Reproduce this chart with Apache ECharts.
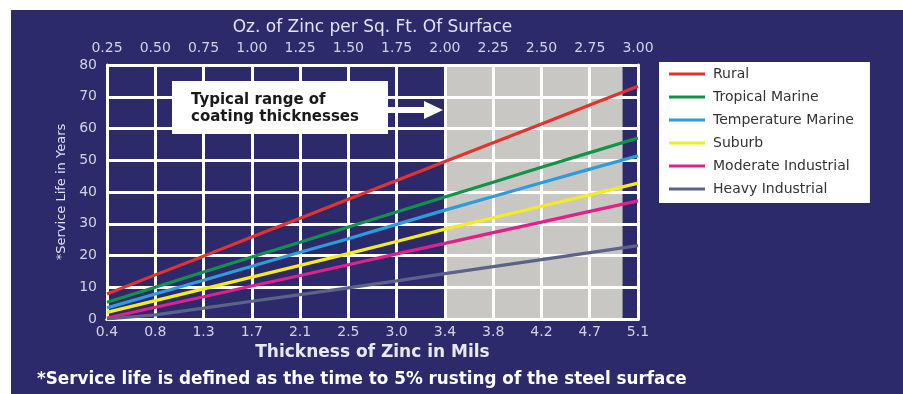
<!DOCTYPE html>
<html>
<head>
<meta charset="utf-8">
<script src="https://cdn.jsdelivr.net/npm/echarts@6/dist/echarts.min.js"></script>
<style>
  html, body { margin: 0; padding: 0; background: #fff; }
  #panel { position: absolute; left: 11px; top: 10px; right: 0; bottom: 0; background: #2d2a6c; }
  #chart { position: absolute; left: 0; top: 0; width: 903px; height: 394px; }
</style>
</head>
<body>
<div id="panel"></div>
<div id="chart"></div>
<script>
// x positions in oz of zinc per sq. ft.
const ozTicks = [0.25, 0.5, 0.75, 1.0, 1.25, 1.5, 1.75, 2.0, 2.25, 2.5, 2.75, 3.0]
const ozLabels = ['0.25', '0.50', '0.75', '1.00', '1.25', '1.50', '1.75', '2.00', '2.25', '2.50', '2.75', '3.00']
const milLabels = ['0.4', '0.8', '1.3', '1.7', '2.1', '2.5', '3.0', '3.4', '3.8', '4.2', '4.7', '5.1']

// service life in years at each oz tick
const rural = [7.9, 13.9, 19.8, 25.8, 31.7, 37.7, 43.6, 49.6, 55.5, 61.4, 67.4, 73.3]
const tropicalMarine = [5.3, 10.0, 14.8, 19.5, 24.2, 29.0, 33.7, 38.4, 43.1, 47.8, 52.4, 57.0]
const temperatureMarine = [3.5, 7.9, 12.2, 16.6, 21.0, 25.3, 29.8, 34.3, 38.6, 42.9, 47.2, 51.4]
const suburb = [2.1, 5.8, 9.5, 13.2, 16.9, 20.6, 24.4, 28.3, 31.9, 35.5, 39.1, 42.8]
const moderateIndustrial = [0.3, 3.7, 7.0, 10.4, 13.7, 17.1, 20.5, 23.8, 27.2, 30.5, 33.9, 37.2]
const heavyIndustrial = [0, 1.3, 3.4, 5.6, 7.7, 9.8, 12.0, 14.3, 16.5, 18.7, 20.9, 23.1]

// typical coating range (oz)
const typicalRange = [2.0, 2.92]

const lineDefs = [
  { name: 'Rural', data: rural, color: '#e2332f' },
  { name: 'Tropical Marine', data: tropicalMarine, color: '#12934a' },
  { name: 'Temperature Marine', data: temperatureMarine, color: '#2b9ddb' },
  { name: 'Suburb', data: suburb, color: '#f3ec22' },
  { name: 'Moderate Industrial', data: moderateIndustrial, color: '#e0218a' },
  { name: 'Heavy Industrial', data: heavyIndustrial, color: '#5c6388' }
]

const font = '"DejaVu Sans", sans-serif'
const labelColor = '#d2d2e4'

const chart = echarts.init(document.getElementById('chart'))

const series = lineDefs.map((d, i) => {
  const s = {
    name: d.name,
    type: 'line',
    symbol: 'none',
    z: 5,
    lineStyle: { color: d.color, width: 3.2 },
    itemStyle: { color: d.color },
    data: d.data.map((v, k) => [ozTicks[k], v])
  }
  if (i === 0) {
    s.markArea = {
      silent: true,
      itemStyle: { color: '#c9c7c3' },
      data: [[{ xAxis: typicalRange[0] }, { xAxis: typicalRange[1] }]]
    }
  }
  return s
})

const option = {
  animation: false,
  textStyle: { fontFamily: font },
  grid: { left: 107, right: 265, top: 65, bottom: 75 },
  legend: {
    left: 659,
    top: 62,
    orient: 'vertical',
    backgroundColor: '#ffffff',
    padding: [5, 16, 7, 10],
    itemGap: 9,
    itemWidth: 36,
    itemHeight: 3,
    icon: 'rect',
    textStyle: { color: '#333333', fontSize: 14, lineHeight: 14, fontFamily: font, padding: [0, 0, 0, 3] },
    data: lineDefs.map(d => d.name)
  },
  xAxis: [
    {
      type: 'value',
      position: 'top',
      min: 0.25,
      max: 3.0,
      interval: 0.25,
      z: 3,
      name: 'Oz. of Zinc per Sq. Ft. Of Surface',
      nameLocation: 'middle',
      nameGap: 24,
      nameTextStyle: { color: '#e2e2f0', fontSize: 17, fontFamily: font },
      axisLine: { show: true, lineStyle: { color: '#ffffff', width: 3 } },
      axisTick: { show: false },
      axisLabel: {
        color: labelColor,
        fontSize: 14,
        margin: 10,
        fontFamily: font,
        formatter: (v, i) => ozLabels[i]
      },
      splitLine: { show: true, lineStyle: { color: '#ffffff', width: 3 } }
    },
    {
      type: 'value',
      position: 'bottom',
      min: 0.25,
      max: 3.0,
      interval: 0.25,
      z: 3,
      name: 'Thickness of Zinc in Mils',
      nameLocation: 'middle',
      nameGap: 24,
      nameTextStyle: { color: '#e8e8f4', fontSize: 17, fontWeight: 'bold', fontFamily: font },
      axisLine: { show: true, onZero: false, lineStyle: { color: '#ffffff', width: 3 } },
      axisTick: { show: false },
      axisLabel: {
        color: labelColor,
        fontSize: 14,
        margin: 6,
        fontFamily: font,
        formatter: (v, i) => milLabels[i]
      },
      splitLine: { show: false }
    }
  ],
  yAxis: [
    {
      type: 'value',
      min: 0,
      max: 80,
      interval: 10,
      z: 3,
      name: '*Service Life in Years',
      nameLocation: 'middle',
      nameGap: 30,
      nameTextStyle: { color: '#e2e2f0', fontSize: 13, fontFamily: font },
      axisLine: { show: true, lineStyle: { color: '#ffffff', width: 3 } },
      axisTick: { show: false },
      axisLabel: { color: labelColor, fontSize: 14, margin: 10, fontFamily: font },
      splitLine: { show: true, lineStyle: { color: '#ffffff', width: 3 } }
    },
    {
      type: 'value',
      position: 'right',
      min: 0,
      max: 80,
      interval: 10,
      z: 3,
      axisLine: { show: true, lineStyle: { color: '#ffffff', width: 3 } },
      axisTick: { show: false },
      axisLabel: { show: false },
      splitLine: { show: false }
    }
  ],
  graphic: [
    {
      type: 'rect',
      shape: { x: 172, y: 81, width: 216, height: 53 },
      style: { fill: '#ffffff' },
      z: 10
    },
    {
      type: 'text',
      left: 191,
      top: 92,
      style: {
        text: 'Typical range of\ncoating thicknesses',
        fill: '#1a1a1a',
        font: 'bold 15px ' + font,
        lineHeight: 17
      },
      z: 11
    },
    {
      type: 'polygon',
      shape: { points: [[388, 107], [424, 107], [424, 101], [443, 110], [424, 119], [424, 113], [388, 113]] },
      style: { fill: '#ffffff' },
      z: 10
    },
    {
      type: 'text',
      left: 37,
      top: 371,
      style: {
        text: '*Service life is defined as the time to 5% rusting of the steel surface',
        fill: '#ffffff',
        font: 'bold 16.8px ' + font
      },
      z: 10
    }
  ],
  series: series
}

chart.setOption(option)
</script>
</body>
</html>
